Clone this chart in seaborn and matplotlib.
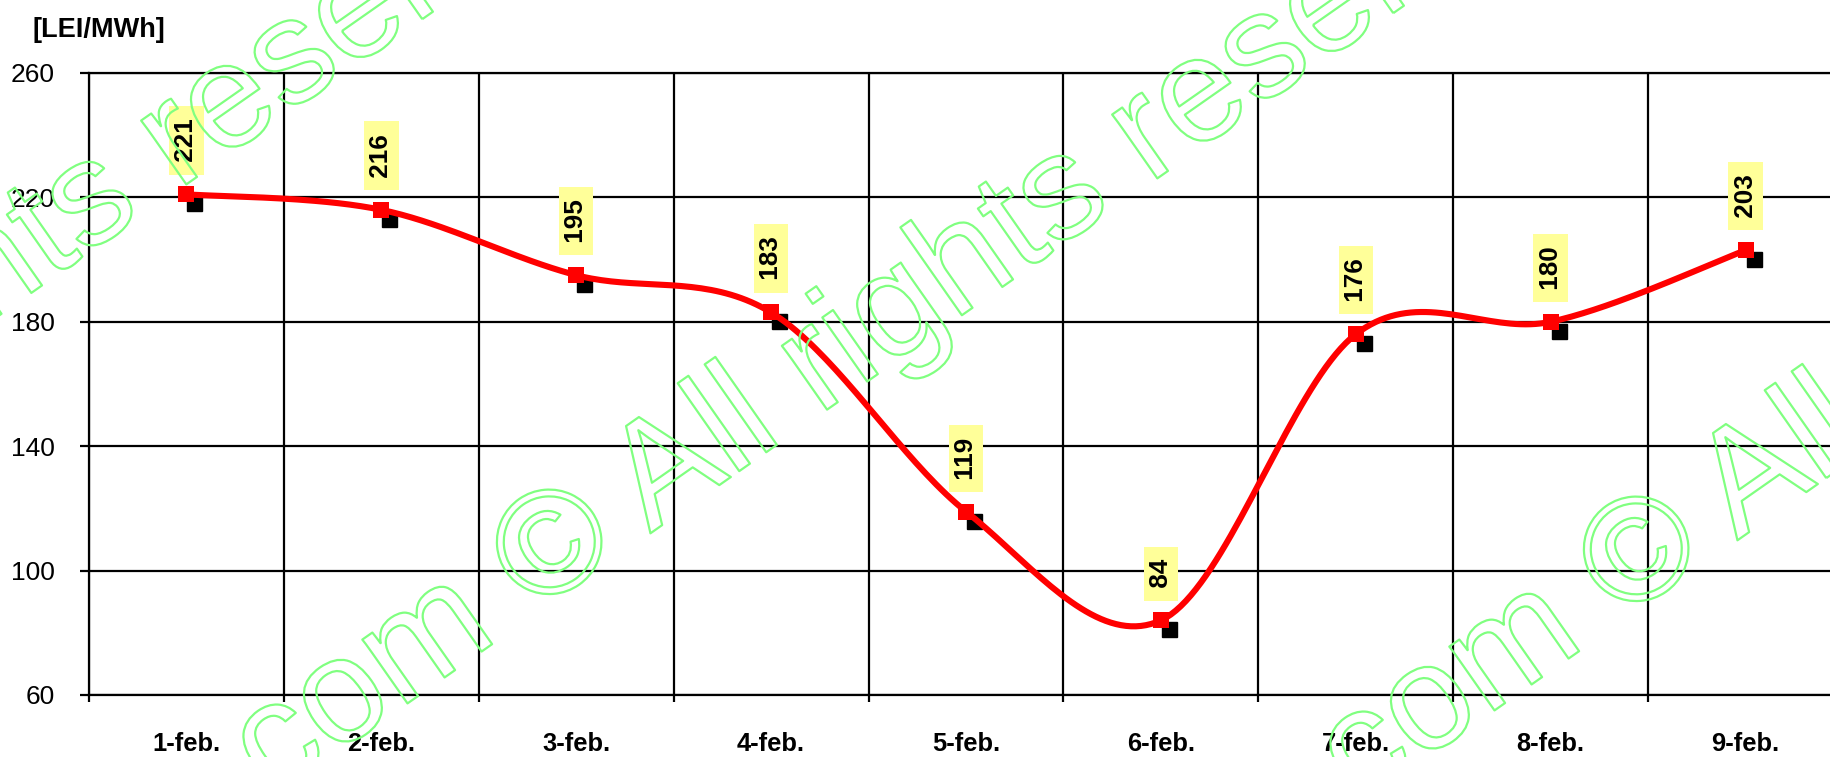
import numpy as np
import matplotlib
matplotlib.use("Agg")
import matplotlib.pyplot as plt
import matplotlib.transforms as mtrans
import matplotlib.patheffects as pe
import seaborn as sns

# ---------------- data ----------------
dates = ["1-feb.", "2-feb.", "3-feb.", "4-feb.", "5-feb.", "6-feb.", "7-feb.", "8-feb.", "9-feb."]
prices = [221, 216, 195, 183, 119, 84, 176, 180, 203]
y_ticks = [60, 100, 140, 180, 220, 260]
unit_label = "[LEI/MWh]"
watermark = "com © All rights reserved"

sns.set_theme(style="white")
plt.rcParams["font.family"] = ["Liberation Sans", "DejaVu Sans"]

W, H = 1830, 757
fig = plt.figure(figsize=(W / 100, H / 100), dpi=100)
fig.patch.set_facecolor("white")
ax = fig.add_axes([89 / W, 1 - 695 / H, 1754 / W, (695 - 73) / H])
ax.set_facecolor("white")

idx = np.arange(len(dates))


def smooth_curve(xs, ys, n=40):
    """Excel-like smoothed line (Catmull-Rom Bezier) through the data points."""
    P = np.column_stack([xs, ys]).astype(float)
    Pe = np.vstack([P[0], P, P[-1]])
    out = []
    t = np.linspace(0, 1, n)[:, None]
    for i in range(len(P) - 1):
        p0, p1, p2, p3 = Pe[i], Pe[i + 1], Pe[i + 2], Pe[i + 3]
        c1 = p1 + (p2 - p0) / 6.0
        c2 = p2 - (p3 - p1) / 6.0
        seg = (1 - t) ** 3 * p1 + 3 * (1 - t) ** 2 * t * c1 + 3 * (1 - t) * t ** 2 * c2 + t ** 3 * p2
        out.append(seg if i == 0 else seg[1:])
    return np.vstack(out)


curve = smooth_curve(idx, prices)

# shadow squares
shadow = mtrans.offset_copy(ax.transData, fig=fig, x=8, y=-9, units="dots")
ax.plot(idx, prices, "s", ms=10.8, color="black", transform=shadow, zorder=2)

# smoothed red line
sns.lineplot(x=curve[:, 0], y=curve[:, 1], sort=False, estimator=None,
             color="#FF0000", linewidth=4.4, ax=ax, zorder=3)
# red square markers
sns.scatterplot(x=idx, y=prices, marker="s", s=117, color="#FF0000",
                linewidth=0, ax=ax, zorder=4)

# data labels
for i, v in enumerate(prices):
    ax.annotate(f" {v} ", (idx[i], v), xytext=(0, 18), textcoords="offset points",
                rotation=90, ha="center", va="bottom", fontsize=18.8, fontweight="bold",
                color="black",
                bbox=dict(boxstyle="square,pad=0.2", fc="#FFFF99", ec="none"), zorder=5)

# axes / grid
ax.set_xlim(-0.5, len(dates) - 0.5)
ax.set_ylim(y_ticks[0], y_ticks[-1])
ax.set_yticks(y_ticks)
ax.set_yticklabels([str(t) for t in y_ticks], fontsize=19)
ax.set_xticks(np.arange(-0.5, len(dates), 1.0))
ax.set_xticklabels([])
ax.set_xticks(idx, minor=True)
ax.set_xticklabels(dates, minor=True, fontsize=18.4, fontweight="bold")
ax.grid(True, which="major", axis="both", color="black", linewidth=1.6)
ax.set_axisbelow(True)
ax.tick_params(axis="x", which="major", length=5, width=1.6, color="black",
               direction="out", bottom=True)
ax.tick_params(axis="x", which="minor", length=0, pad=26.5, labelcolor="black")
ax.tick_params(axis="y", which="major", length=6.5, width=1.6, color="black",
               direction="out", left=True, pad=18, labelcolor="black")
for s in ax.spines.values():
    s.set_visible(True)
    s.set_color("black")
    s.set_linewidth(1.6)
ax.set_xlabel("")
ax.set_ylabel("")

fig.text(32 / W, 1 - 37 / H, unit_label, fontsize=19.5, fontweight="bold",
         ha="left", va="baseline", color="black")

# watermark lines (outlined green text)
for (xs, ys) in [(271, 799), (1358, 806), (-700, 805)]:
    fig.text(xs, H - ys, watermark, transform=mtrans.IdentityTransform(),
             rotation=35, rotation_mode="anchor", ha="left", va="baseline",
             fontsize=106.6, color=(1, 1, 1, 0),
             path_effects=[pe.Stroke(linewidth=1.6, foreground="#80FF80")],
             zorder=10)

fig.savefig("out.png", dpi=100)
